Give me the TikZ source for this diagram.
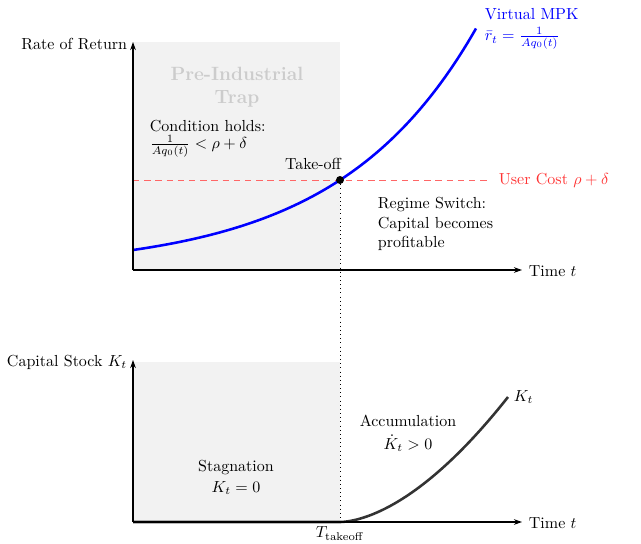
\documentclass[tikz,border=0pt]{standalone}
\usetikzlibrary{arrows.meta}
\begin{document}
\begin{tikzpicture}[x=0.625pt,y=-0.625pt,
  axis/.style={-{Stealth[length=5pt,width=3.5pt]}, line width=0.8pt},
  txt/.style={inner sep=1pt},
  region/.style={fill=gray!10, draw=none}]
\useasboundingbox (0,0) rectangle (641,544);
% ---------- top panel ----------
\fill[region] (133,42) rectangle (340,270);
\coordinate (O1) at (133,270);
\coordinate (Y1) at (133,42);
\coordinate (X1) at (522,270);
\node[txt, red!80, anchor=west] (uc) at (497,180) {User Cost $\rho+\delta$};
\draw[red!60, line width=0.5pt, dash pattern=on 4pt off 3pt, shorten >=4pt] (133,180) -- (uc.west);
\draw[blue, line width=1.6pt] plot[domain=133:476, samples=80] (\x, {270-20*exp(0.00727*(\x-133))});
\node[circle, fill=black, inner sep=0pt, minimum size=5pt] (tk) at (340,180) {};
\coordinate (B2) at (340,522);
\draw[dotted, line width=0.6pt] (tk) -- (B2);
\draw[axis] (O1) -- (Y1);
\draw[axis] (O1) -- (X1);
\node[txt, anchor=east] (ylab1) at (129,44) {Rate of Return};
\node[txt, anchor=west] (xlab1) at (527,271) {Time $t$};
\node[txt, blue, anchor=west] (vm) at (483,14) {Virtual MPK};
\node[txt, blue, anchor=west] (vr) at (483,38) {$\bar r_t=\frac{1}{Aq_0(t)}$};
\node[txt, gray!40, font=\large\bfseries, align=center] (trap) at (237,87) {Pre-Industrial\\Trap};
\node[txt, anchor=west] (cond) at (148,126) {Condition holds:};
\node[txt, anchor=west] (condm) at (148,146) {$\frac{1}{Aq_0(t)}<\rho+\delta$};
\node[txt] (tkl) at (313,164) {Take-off};
\node[txt, align=left, anchor=west] (reg) at (376,224) {Regime Switch:\\Capital becomes\\profitable};
% ---------- bottom panel ----------
\fill[region] (133,362) rectangle (340,522);
\coordinate (O2) at (133,522);
\coordinate (Y2) at (133,360);
\coordinate (X2) at (522,522);
\draw[black!80, line width=1.6pt] (O2) -- (B2) -- plot[domain=0.5:168, samples=60] ({340+\x}, {522-0.0206*(\x)^1.7});
\draw[axis] (O2) -- (Y2);
\draw[axis] (O2) -- (X2);
\node[txt, anchor=east] (ylab2) at (129,362) {Capital Stock $K_t$};
\node[txt, anchor=west] (xlab2) at (527,523) {Time $t$};
\node[txt, anchor=west] (kl) at (512,397) {$K_t$};
\node[inner sep=0pt] (acc) at (408,421) {Accumulation};
\node[inner sep=0pt] (accm) at (408,443) {$\dot K_t>0$};
\node[inner sep=0pt] (stag) at (236,468) {Stagnation};
\node[inner sep=0pt] (stagm) at (236,488) {$K_t=0$};
\node[txt, anchor=north] (tt) at (340,525) {$T_{\mathrm{takeoff}}$};
\end{tikzpicture}
\end{document}
